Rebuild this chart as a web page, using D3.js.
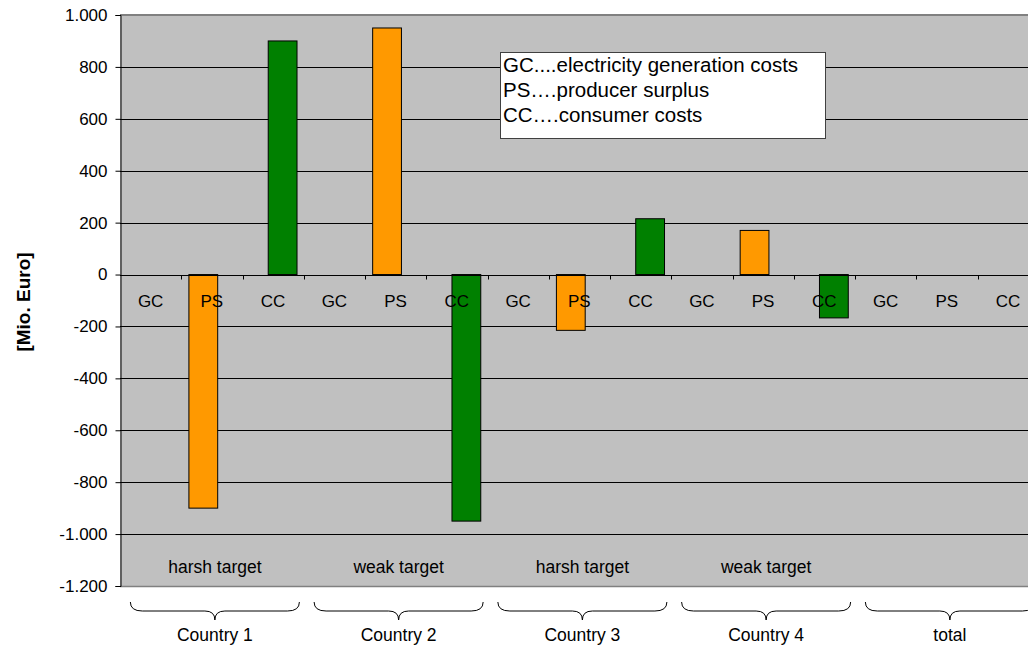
<!DOCTYPE html>
<html>
<head>
<meta charset="utf-8">
<script src="https://cdn.jsdelivr.net/npm/d3@7"></script>
<style>
  html, body { margin: 0; padding: 0; background: #fff; }
  svg { display: block; font-family: "Liberation Sans", Arial, sans-serif; }
</style>
</head>
<body>
<svg id="chart" width="1028" height="648"></svg>
<script>
// ---- data ----
const groups = ["Country 1", "Country 2", "Country 3", "Country 4", "total"];
const targets = ["harsh target", "weak target", "harsh target", "weak target", ""];
const measures = ["GC", "PS", "CC"];
const gcValues = [0, 0, 0, 0, 0];
const psValues = [-900, 950, -215, 170, 0];
const ccValues = [900, -950, 215, -167, 0];
const yTicks = [-1200, -1000, -800, -600, -400, -200, 0, 200, 400, 600, 800, 1000];
const legendLines = ["GC....electricity generation costs", "PS\u2026.producer surplus", "CC\u2026.consumer costs"];

// ---- layout ----
const W = 1028, H = 648;
const plot = { left: 120, top: 15, right: 1038.75, bottom: 586 };
const svg = d3.select("#chart");

const cats = [];
groups.forEach((g, gi) => measures.forEach(m => cats.push({ key: gi + "-" + m, g: gi, m: m })));

const x = d3.scaleBand().domain(cats.map(c => c.key)).range([plot.left, plot.right]).padding(0);
const y = d3.scaleLinear().domain([-1200, 1000]).range([plot.bottom, plot.top]);

const loc = d3.formatLocale({ decimal: ",", thousands: ".", grouping: [3], currency: ["", "€"], minus: "-" });
const fmt = loc.format(",d");

// plot background
svg.append("rect")
  .attr("x", plot.left).attr("y", plot.top)
  .attr("width", plot.right - plot.left).attr("height", plot.bottom - plot.top)
  .attr("fill", "#c0c0c0");

// gridlines
svg.append("g").selectAll("line").data(yTicks.filter(t => t !== 1000 && t !== -1200 && t !== 0)).join("line")
  .attr("x1", plot.left).attr("x2", plot.right)
  .attr("y1", d => Math.round(y(d)) + 0.5).attr("y2", d => Math.round(y(d)) + 0.5)
  .attr("stroke", "#000").attr("stroke-width", 1);

// bottom border
svg.append("line")
  .attr("x1", plot.left).attr("x2", plot.right)
  .attr("y1", Math.round(y(-1200)) + 0.5).attr("y2", Math.round(y(-1200)) + 0.5)
  .attr("stroke", "#808080").attr("stroke-width", 1.5);

// bars
const bw = x.bandwidth();
const barW = bw * 0.47;
const barData = [];
groups.forEach((g, gi) => {
  barData.push({ key: gi + "-PS", v: psValues[gi], off: -bw * 0.14, color: "#ff9900" });
  barData.push({ key: gi + "-CC", v: ccValues[gi], off: bw * 0.155, color: "#008000" });
  barData.push({ key: gi + "-GC", v: gcValues[gi], off: 0, color: "#3366ff" });
});
svg.append("g").selectAll("rect").data(barData.filter(d => d.v !== 0)).join("rect")
  .attr("x", d => x(d.key) + bw / 2 + d.off - barW / 2)
  .attr("width", barW)
  .attr("y", d => y(Math.max(0, d.v)))
  .attr("height", d => Math.abs(y(d.v) - y(0)))
  .attr("fill", d => d.color)
  .attr("stroke", "#000").attr("stroke-width", 1);

// zero axis with ticks at band boundaries
const zeroY = Math.round(y(0)) + 0.5;
svg.append("line")
  .attr("x1", plot.left).attr("x2", plot.right)
  .attr("y1", zeroY).attr("y2", zeroY)
  .attr("stroke", "#000").attr("stroke-width", 1);
svg.append("g").selectAll("line").data(cats.slice(1)).join("line")
  .attr("x1", d => Math.round(x(d.key)) + 0.5).attr("x2", d => Math.round(x(d.key)) + 0.5)
  .attr("y1", zeroY).attr("y2", zeroY + 4)
  .attr("stroke", "#000").attr("stroke-width", 1);

// category labels
svg.append("g").selectAll("text").data(cats).join("text")
  .attr("x", d => x(d.key) + bw / 2)
  .attr("y", y(0) + 32)
  .attr("text-anchor", "middle")
  .attr("font-size", 17)
  .attr("fill", "#000")
  .text(d => d.m);

// target labels
const groupCenter = gi => x(gi + "-PS") + bw / 2;
svg.append("g").selectAll("text").data(targets).join("text")
  .attr("x", (d, i) => groupCenter(i) + 3)
  .attr("y", 573)
  .attr("text-anchor", "middle")
  .attr("font-size", 17.5)
  .attr("fill", "#000")
  .text(d => d);

// braces
const braceHalf = bw * 1.38;
const bracePath = cx => {
  const l = cx - braceHalf, r = cx + braceHalf, y0 = 602, y1 = 611, y2 = 620;
  return `M${l},${y0} Q${l},${y1} ${l + 12},${y1} L${cx - 10},${y1} Q${cx},${y1} ${cx},${y2} Q${cx},${y1} ${cx + 10},${y1} L${r - 12},${y1} Q${r},${y1} ${r},${y0}`;
};
svg.append("g").selectAll("path").data(groups).join("path")
  .attr("d", (d, i) => bracePath(groupCenter(i) + 3))
  .attr("fill", "none").attr("stroke", "#000").attr("stroke-width", 1);

// group labels
svg.append("g").selectAll("text").data(groups).join("text")
  .attr("x", (d, i) => groupCenter(i) + 3)
  .attr("y", 641)
  .attr("text-anchor", "middle")
  .attr("font-size", 17.5)
  .attr("fill", "#000")
  .text(d => d);

// legend box
const lg = svg.append("g");
lg.append("rect").attr("x", 500.5).attr("y", 52.5).attr("width", 325).attr("height", 86)
  .attr("fill", "#fff").attr("stroke", "#404040").attr("stroke-width", 1);
lg.selectAll("text").data(legendLines).join("text")
  .attr("x", 503).attr("y", (d, i) => 72 + i * 24.8)
  .attr("font-size", 20.5).attr("fill", "#000")
  .text(d => d);

// top border
svg.append("line")
  .attr("x1", plot.left).attr("x2", plot.right)
  .attr("y1", plot.top).attr("y2", plot.top)
  .attr("stroke", "#808080").attr("stroke-width", 2);

// y axis
const yAxis = d3.axisLeft(y).tickValues(yTicks).tickFormat(fmt).tickSize(5).tickPadding(8);
const ga = svg.append("g").attr("transform", `translate(${plot.left + 0.5},0)`).call(yAxis);
ga.select(".domain").attr("stroke", "#000");
ga.selectAll(".tick line").attr("stroke", "#000");
ga.selectAll(".tick text").attr("font-size", 17).attr("fill", "#000")
  .attr("font-family", "'Liberation Sans', Arial, sans-serif");

// y title
svg.append("text")
  .attr("transform", "translate(30,302) rotate(-90)")
  .attr("text-anchor", "middle")
  .attr("font-size", 19)
  .attr("font-weight", "bold")
  .attr("fill", "#000")
  .text("[Mio. Euro]");
</script>
</body>
</html>
